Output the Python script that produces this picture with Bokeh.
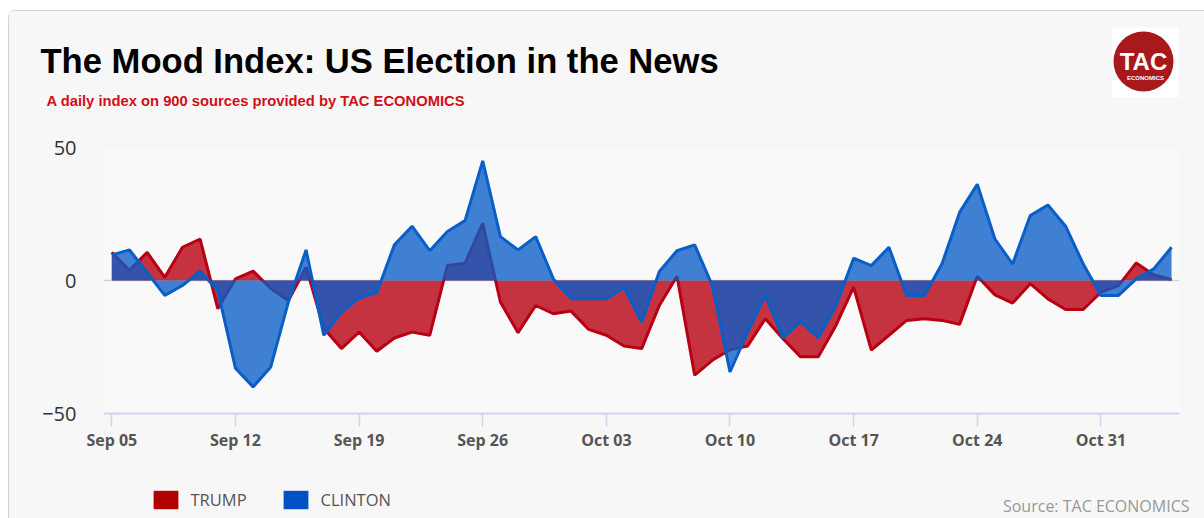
import pandas as pd
from bokeh.plotting import figure
from bokeh.layouts import column
from bokeh.models import (ColumnDataSource, Range1d, FixedTicker, Label, Legend,
                          LegendItem, BoxAnnotation)
from bokeh.embed import file_html
from bokeh.resources import INLINE

# ---------------- data ----------------
start_date = "2016-09-05"
trump = [10.6, 3.8, 10.6, 1.2, 12.5, 15.6, -10.6, 0.6, 3.5, -3.0,
         -7.5, 5.0, -18.0, -25.6, -19.4, -26.6, -21.6, -19.4, -20.6, 5.6,
         6.5, 21.5, -8.1, -19.6, -9.4, -12.5, -11.5, -18.4, -20.6, -24.6,
         -25.6, -9.4, 1.6, -35.6, -30.0, -26.0, -24.6, -14.4, -21.9, -28.7,
         -28.7, -16.9, -2.5, -26.2, -20.6, -15.0, -14.4, -15.0, -16.5, 1.6,
         -5.4, -8.5, -1.2, -6.9, -10.9, -10.9, -4.4, -1.9, 6.6, 2.1, 0.4]
clinton = [9.6, 11.5, 3.0, -5.6, -1.9, 3.5, -3.8, -33.0, -40.0, -32.5,
           -8.0, 11.5, -20.6, -12.0, -6.6, -4.6, 13.4, 20.4, 11.2, 18.4,
           22.5, 45.0, 16.5, 11.5, 16.5, 0.6, -6.9, -6.9, -6.9, -2.6,
           -15.6, 3.4, 11.2, 13.4, -1.9, -34.4, -19.4, -5.6, -21.6, -15.4,
           -21.6, -9.4, 8.4, 5.6, 12.5, -5.6, -5.6, 6.2, 25.6, 36.2,
           15.6, 6.2, 24.4, 28.4, 20.4, 6.2, -5.6, -5.6, 0.6, 4.4, 12.5]
tick_labels = ["Sep 05", "Sep 12", "Sep 19", "Sep 26", "Oct 03",
               "Oct 10", "Oct 17", "Oct 24", "Oct 31"]
y_ticks = [-50, 0, 50]
series_names = ["TRUMP", "CLINTON"]
title_text = "The Mood Index: US Election in the News"
subtitle_text = "A daily index on 900 sources provided by TAC ECONOMICS"
source_text = "Source: TAC ECONOMICS"
logo_big = "TAC"
logo_small = "ECONOMICS"

dates = pd.date_range(start_date, periods=len(trump), freq="D")
day = [(d - dates[0]).days for d in dates]
tick_days = [7 * i for i in range(len(tick_labels))]

RED = "#b80012"
BLUE = "#0a5ec8"
BG = "#f7f7f7"

# content origin on the page (inside the box border)
OX, OY = 9, 11
W = 1204 - OX
H_HEAD, H_MAIN = 120, 339
H_FOOT = 518 - OY - H_HEAD - H_MAIN
TOP_HEAD = OY
TOP_FOOT = OY + H_HEAD + H_MAIN


def bare_fig(h):
    f = figure(width=W, height=h, output_backend="svg", toolbar_location=None,
               x_range=Range1d(0, W), y_range=Range1d(0, h),
               x_axis_location=None, y_axis_location=None,
               min_border=0, min_border_left=0, min_border_right=0,
               min_border_top=0, min_border_bottom=0)
    f.frame_align = False
    f.background_fill_color = BG
    f.border_fill_color = BG
    f.outline_line_color = None
    f.xgrid.visible = False
    f.ygrid.visible = False
    return f


def lbl(f, top, h, text, x, y, **kw):
    # x, y given in page pixels (top-left origin); top = page y of figure top
    f.add_layout(Label(text=text, x=x - OX, y=h - (y - top), x_units="screen",
                       y_units="screen", **kw))


def box(f, top, h, l, r, t, b, **kw):
    f.add_layout(BoxAnnotation(left=l - OX, right=r - OX, top=h - (t - top),
                               bottom=h - (b - top), left_units="screen",
                               right_units="screen", top_units="screen",
                               bottom_units="screen", **kw))


# ---------------- header ----------------
head = bare_fig(H_HEAD)
lbl(head, TOP_HEAD, H_HEAD, title_text, 40, 60, text_font="Liberation Sans",
    text_font_style="bold", text_font_size="34.6px", text_color="#000000",
    text_baseline="alphabetic")
lbl(head, TOP_HEAD, H_HEAD, subtitle_text, 46, 100, text_font="Liberation Sans",
    text_font_style="bold", text_font_size="14.75px", text_color="#d10f17",
    text_baseline="alphabetic")
box(head, TOP_HEAD, H_HEAD, 1111, 1178, 27, 97, fill_color="white", fill_alpha=1,
    line_color=None)
box(head, TOP_HEAD, H_HEAD, 1113, 1173, 31, 91, fill_color="#a8191b", fill_alpha=1,
    line_color=None, border_radius=30)
lbl(head, TOP_HEAD, H_HEAD, logo_big, 1143, 61, text_font="Liberation Sans",
    text_font_style="bold", text_font_size="24px", text_color="white",
    text_align="center", text_baseline="alphabetic")
lbl(head, TOP_HEAD, H_HEAD, logo_small, 1145, 77, text_font="Liberation Sans",
    text_font_style="bold", text_font_size="6px", text_color="white",
    text_align="center", text_baseline="middle")

# ---------------- main chart ----------------
src = ColumnDataSource(dict(day=day, trump=trump, clinton=clinton,
                            zero=[0] * len(day)))

frame_left, frame_right, frame_top, frame_bottom = 103, 1179, 147, 413
p = figure(width=W, height=H_MAIN, output_backend="svg", toolbar_location=None,
           x_range=Range1d(-0.47, len(day) - 1 + 0.45), y_range=Range1d(-50, 50),
           min_border_left=frame_left - OX, min_border_right=OX + W - frame_right,
           min_border_top=frame_top - (OY + H_HEAD),
           min_border_bottom=(OY + H_HEAD + H_MAIN) - frame_bottom)
p.frame_align = False
p.background_fill_color = "#f9f9f9"
p.border_fill_color = BG
p.outline_line_color = None

p.varea(x="day", y1="zero", y2="trump", source=src, fill_color=RED, fill_alpha=0.8)
p.line(x="day", y="trump", source=src, line_color=RED, line_width=3)
p.varea(x="day", y1="zero", y2="clinton", source=src, fill_color=BLUE, fill_alpha=0.78)
p.line(x="day", y="clinton", source=src, line_color=BLUE, line_width=3)

p.xgrid.grid_line_color = None
p.ygrid.grid_line_color = "#d4d4d4"
p.ygrid.grid_line_width = 1.5
p.yaxis.ticker = FixedTicker(ticks=y_ticks)
p.yaxis.axis_line_color = None
p.yaxis.major_tick_line_color = None
p.yaxis.minor_tick_line_color = None
p.yaxis.major_label_text_font = "Open Sans"
p.yaxis.major_label_text_font_size = "20px"
p.yaxis.major_label_text_color = "#333333"
p.yaxis.major_label_standoff = 21

p.xaxis.ticker = FixedTicker(ticks=tick_days)
p.xaxis.major_label_overrides = {d: lab for d, lab in zip(tick_days, tick_labels)}
p.xaxis.axis_line_color = "#ccd6eb"
p.xaxis.axis_line_width = 2
p.xaxis.major_tick_line_color = "#ccd6eb"
p.xaxis.major_tick_line_width = 1.5
p.xaxis.major_tick_out = 13
p.xaxis.major_tick_in = 0
p.xaxis.minor_tick_line_color = None
p.xaxis.major_label_text_font = "Open Sans"
p.xaxis.major_label_text_font_style = "bold"
p.xaxis.major_label_text_font_size = "16px"
p.xaxis.major_label_text_color = "#555555"
p.xaxis.major_label_standoff = 2

# ---------------- footer (legend + source) ----------------
foot = bare_fig(H_FOOT)
dummy_r = foot.varea(x=[0, 1], y1=[0, 0], y2=[0, 0], fill_color="#b00000", fill_alpha=1)
dummy_b = foot.varea(x=[0, 1], y1=[0, 0], y2=[0, 0], fill_color="#0052c4", fill_alpha=1)
legend = Legend(items=[LegendItem(label=series_names[0], renderers=[dummy_r]),
                       LegendItem(label=series_names[1], renderers=[dummy_b])],
                orientation="horizontal",
                location=(151 - 1.5 - OX, 518 - 510.5),
                glyph_width=31, glyph_height=23, label_standoff=10, spacing=33,
                padding=0, margin=0, border_line_color=None,
                background_fill_alpha=0, label_text_font="Open Sans",
                label_text_font_size="16.5px", label_text_color="#555555",
                label_height=20)
foot.add_layout(legend, "center")
lbl(foot, TOP_FOOT, H_FOOT, source_text, 1189, 505, text_font="Open Sans",
    text_font_size="16px", text_color="#999999", text_align="right",
    text_baseline="alphabetic")

layout = column(head, p, foot, spacing=0,
                styles={"margin-left": "8px", "margin-top": "10px",
                        "border-left": "1px solid #d2d2d2",
                        "border-top": "1px solid #d2d2d2",
                        "border-top-left-radius": "7px",
                        "background-color": BG})

open("out.html", "w").write(file_html(layout, INLINE))
